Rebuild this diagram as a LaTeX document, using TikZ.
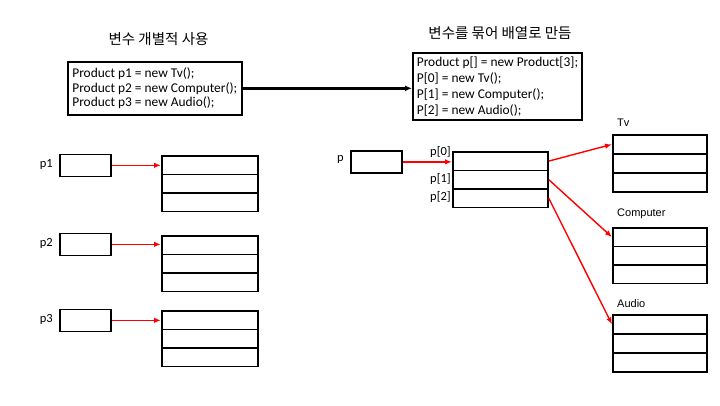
\documentclass[tikz,border=0pt]{standalone}
\usepackage{fontspec}
\setmainfont{Carlito}
\newfontfamily\krfont{Noto Sans CJK KR}
\newfontfamily\arialfont{Liberation Sans}
\usetikzlibrary{arrows.meta}
\begin{document}
\begin{tikzpicture}[x=1pt,y=-1pt,
  codebox/.style={draw,line width=1.7pt,align=left,anchor=north west,inner ysep=0pt},
  rowL/.style={draw,line width=1.7pt,minimum width=96pt,minimum height=18.5pt,inner sep=0pt,anchor=north west},
  rowA/.style={draw,line width=1.7pt,minimum width=95pt,minimum height=18.5pt,inner sep=0pt,anchor=north west},
  rowR/.style={draw,line width=1.7pt,minimum width=94pt,minimum height=19pt,inner sep=0pt,anchor=north west},
  refbox/.style={draw,line width=1.7pt,minimum width=51pt,minimum height=22pt,inner sep=0pt,anchor=north west},
  redarr/.style={red,line width=1.4pt,-{Latex[length=7pt,width=5.5pt]}},
  blackarr/.style={black,line width=2.3pt,-{Latex[length=7pt,width=6pt]}},
  title/.style={font=\krfont\fontsize{14.5}{16}\selectfont,inner sep=0pt},
  plabel/.style={font=\fontsize{12.5}{14}\selectfont,inner sep=0pt,anchor=east},
  olabel/.style={font=\arialfont\fontsize{11}{13}\selectfont,inner sep=0pt,anchor=west}]
\useasboundingbox (0,0) rectangle (720,405);

% titles
\node[title] (t1) at (158.5,39) {변수 개별적 사용};
\node[title] (t2) at (500,33) {변수를 묶어 배열로 만듬};

% code boxes
\node[codebox,inner xsep=4.5pt,minimum height=53pt,font=\fontsize{13.4}{14.5}\selectfont] (codeL) at (67,61)
  {Product p1 = new Tv();\\Product p2 = new Computer();\\Product p3 = new Audio();};
\node[codebox,inner xsep=4pt,minimum height=67pt,font=\fontsize{13.4}{16}\selectfont] (codeR) at (412,52)
  {Product p[] = new Product[3];\\P[0] = new Tv();\\P[1] = new Computer();\\P[2] = new Audio();};
\draw[blackarr] (codeL.east) -- (codeL.east -| codeR.west);

% left side: separate variables
\node[refbox] (r1) at (59,153.5) {};
\node[refbox] (r2) at (59,232.5) {};
\node[refbox] (r3) at (59,308.5) {};
\node[plabel] (l1) at (53,164) {p1};
\node[plabel] (l2) at (53,243) {p2};
\node[plabel] (l3) at (53,319) {p3};

\node[rowL] (o1a) at (161,155) {};
\node[rowL] (o1b) at (161,173.5) {};
\node[rowL] (o1c) at (161,192) {};
\node[rowL] (o2a) at (161,235) {};
\node[rowL] (o2b) at (161,253.5) {};
\node[rowL] (o2c) at (161,272) {};
\node[rowL] (o3a) at (161,310) {};
\node[rowL] (o3b) at (161,328.5) {};
\node[rowL] (o3c) at (161,347) {};

\draw[redarr] (r1.east) -- (r1.east -| o1a.west);
\draw[redarr] (r2.east) -- (r2.east -| o2a.west);
\draw[redarr] (r3.east) -- (r3.east -| o3a.west);

% right side: array
\node[refbox] (rp) at (350,150) {};
\node[plabel] (lp) at (344,159) {p};
\node[rowA] (a0) at (452,151) {};
\node[rowA] (a1) at (452,169.5) {};
\node[rowA] (a2) at (452,188) {};
\node[plabel] (la0) at (451,152) {p[0]};
\node[plabel] (la1) at (451,179) {p[1]};
\node[plabel] (la2) at (451,197) {p[2]};
\draw[redarr] (rp.east) -- (rp.east -| a0.west);

% objects
\node[olabel] (ltv) at (617,123) {Tv};
\node[rowR] (tv1) at (612,134) {};
\node[rowR] (tv2) at (612,153) {};
\node[rowR] (tv3) at (612,172) {};
\node[olabel] (lco) at (617,214) {Computer};
\node[rowR,minimum height=18.5pt] (co1) at (612,227) {};
\node[rowR,minimum height=18.5pt] (co2) at (612,245.5) {};
\node[rowR,minimum height=18.5pt] (co3) at (612,264) {};
\node[olabel] (lau) at (617,304) {Audio};
\node[rowR] (au1) at (612,314) {};
\node[rowR] (au2) at (612,333) {};
\node[rowR] (au3) at (612,352) {};

\draw[redarr] (a0.east) -- (tv1.west);
\draw[redarr] (a1.east) -- (co1.west);
\draw[redarr] (a2.east) -- (au1.west);
\end{tikzpicture}
\end{document}
